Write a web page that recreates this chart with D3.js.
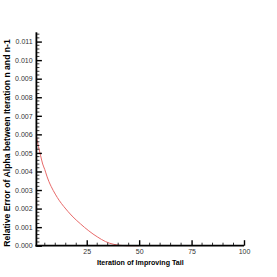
<!DOCTYPE html>
<html>
<head>
<meta charset="utf-8">
<script src="https://cdn.jsdelivr.net/npm/d3@7"></script>
<style>
  html, body { margin: 0; padding: 0; background: #fff; }
  svg { display: block; font-family: "Liberation Sans", Arial, sans-serif; }
</style>
</head>
<body>
<div id="chart"></div>
<script>
// iteration numbers and relative error
const iterations = [1, 2, 3, 4, 5, 6, 7, 8, 9, 10, 12, 14, 16, 18, 20, 22, 24, 26, 28, 30, 32, 34, 36, 38, 40, 42, 44, 50];
const relError = [0.0059, 0.00535, 0.00485, 0.0044, 0.0041, 0.00375, 0.00345, 0.0032, 0.00298, 0.00278,
  0.00242, 0.00212, 0.00185, 0.0016, 0.00138, 0.00118, 0.00098, 0.0008, 0.00063, 0.00048,
  0.00034, 0.00022, 0.00013, 0.00007, 0.00003, 0.00001, 0, 0];
const xTicks = [25, 50, 75, 100];
const yTicks = [0, 0.001, 0.002, 0.003, 0.004, 0.005, 0.006, 0.007, 0.008, 0.009, 0.010, 0.011];

const W = 277, H = 277;
const plotL = 36.4, plotR = 244, plotT = 32.3, plotB = 245.7;

const x = d3.scaleLinear().domain([1, 100]).range([plotL, plotR]);
const y = d3.scaleLinear().domain([0, 0.0115]).range([plotB, plotT]);

const svg = d3.select("#chart").append("svg")
    .attr("width", W).attr("height", H);

// curve
const line = d3.line()
    .x((d, i) => x(iterations[i]))
    .y(d => y(d))
    .curve(d3.curveMonotoneX);

svg.append("path")
    .datum(relError)
    .attr("fill", "none")
    .attr("stroke", "#e86a6a")
    .attr("stroke-width", 1)
    .attr("d", line);

// minor ticks
const xMinor = d3.range(5, 101, 5).filter(v => v % 25 !== 0);
const yMinor = d3.range(0, 116).filter(i => i % 2 === 0 && i % 10 !== 0).map(i => i * 0.0001);

svg.append("g").selectAll("line")
    .data(xMinor).join("line")
    .attr("x1", d => x(d)).attr("x2", d => x(d))
    .attr("y1", plotB).attr("y2", plotB - 3)
    .attr("stroke", "#000").attr("stroke-width", 0.8);

svg.append("g").selectAll("line")
    .data(yMinor).join("line")
    .attr("y1", d => y(d)).attr("y2", d => y(d))
    .attr("x1", plotL).attr("x2", plotL + 3)
    .attr("stroke", "#000").attr("stroke-width", 0.8);

// axes (ticks point inward)
const xAxis = svg.append("g")
    .attr("transform", `translate(0,${plotB})`)
    .call(d3.axisBottom(x).tickValues(xTicks).tickSizeInner(-5.5).tickSizeOuter(0).tickPadding(3));

const yAxis = svg.append("g")
    .attr("transform", `translate(${plotL},0)`)
    .call(d3.axisLeft(y).tickValues(yTicks).tickFormat(d3.format(".3f")).tickSizeInner(-5.5).tickSizeOuter(0).tickPadding(3.8));

[xAxis, yAxis].forEach(g => {
  g.attr("font-family", null);
  g.select(".domain").attr("stroke", "#000").attr("stroke-width", 1.8);
  g.selectAll(".tick line").attr("stroke", "#000").attr("stroke-width", 1.4);
  g.selectAll(".tick text").attr("fill", "#333").style("font-size", "7px");
});
yAxis.select(".domain").attr("d", `M0,${plotB + 0.9}V${plotT}`);
xAxis.select(".domain").attr("d", `M${plotL - 0.9},0H${plotR}`);

// titles, sized to the span they take in the reference
function fitText(sel, target) {
  const len = sel.node().getComputedTextLength();
  sel.style("font-size", (7 * target / len) + "px");
}

const xTitle = svg.append("text")
    .attr("x", 140.3).attr("y", 265)
    .attr("text-anchor", "middle")
    .style("font-size", "7px").style("font-weight", "bold")
    .text("Iteration of Improving Tail");
fitText(xTitle, 87);

const yTitle = svg.append("text")
    .attr("transform", "translate(10,143) rotate(-90)")
    .attr("text-anchor", "middle")
    .style("font-size", "7px").style("font-weight", "bold")
    .text("Relative Error of Alpha between Iteration n and n-1");
fitText(yTitle, 208);
</script>
</body>
</html>
